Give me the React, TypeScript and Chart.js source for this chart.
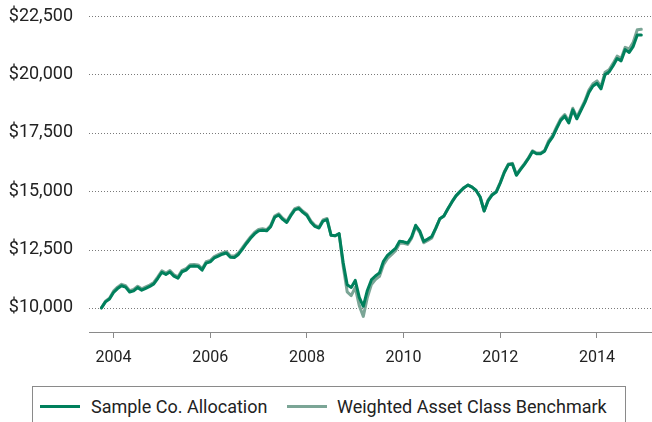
import React, { useEffect, useRef } from "react";
import { Chart, registerables } from "chart.js";

Chart.register(...registerables);

const START_YEAR = 2003;
const START_MONTH = 9; // October (0-based)

const sampleAllocation = [
  10000, 10260, 10380, 10660, 10830, 10950, 10890, 10680, 10730, 10870,
  10760, 10840, 10920, 11030, 11270, 11530, 11430, 11540, 11360, 11270,
  11550, 11620, 11790, 11800, 11780, 11620, 11920, 11970, 12140, 12220,
  12300, 12350, 12170, 12160, 12290, 12520, 12760, 12980, 13170, 13300,
  13330, 13300, 13480, 13880, 13980, 13790, 13660, 13950, 14200, 14260,
  14090, 13960, 13670, 13490, 13420, 13720, 13780, 13110, 13090, 13180,
  11950, 10990, 10880, 11180, 10450, 10070, 10750, 11200, 11370, 11500,
  12000, 12250, 12400, 12550, 12860, 12830, 12780, 13050, 13540, 13300,
  12850, 12950, 13060, 13420, 13820, 13940, 14250, 14540, 14800, 14980,
  15150, 15260, 15170, 15030, 14750, 14150, 14600, 14840, 14960, 15350,
  15800, 16130, 16160, 15680, 15920, 16150, 16400, 16700, 16600, 16600,
  16710, 17080, 17320, 17690, 18030, 18210, 17920, 18480, 18100, 18450,
  18800, 19230, 19500, 19620, 19380, 19990, 20100, 20370, 20680, 20580,
  21060, 20940, 21200, 21690, 21690,
];

const weightedBenchmark = [
  10000, 10290, 10420, 10720, 10890, 11010, 10950, 10740, 10790, 10930,
  10820, 10900, 10980, 11090, 11330, 11590, 11490, 11600, 11420, 11330,
  11610, 11680, 11850, 11860, 11840, 11680, 11980, 12030, 12200, 12280,
  12360, 12410, 12230, 12220, 12350, 12580, 12820, 13040, 13230, 13360,
  13390, 13350, 13530, 13930, 14030, 13840, 13710, 14000, 14250, 14310,
  14140, 14010, 13720, 13540, 13470, 13770, 13830, 13110, 13090, 13170,
  11800, 10690, 10530, 10880, 10100, 9640, 10450, 11000, 11220, 11350,
  11850, 12120, 12280, 12450, 12770, 12770, 12720, 12990, 13480, 13240,
  12790, 12890, 13000, 13420, 13820, 13940, 14250, 14540, 14800, 14980,
  15150, 15260, 15170, 15030, 14750, 14150, 14630, 14870, 14990, 15380,
  15830, 16160, 16190, 15710, 15950, 16180, 16430, 16730, 16630, 16630,
  16740, 17150, 17390, 17760, 18100, 18280, 17990, 18550, 18170, 18520,
  18870, 19330, 19600, 19720, 19480, 20090, 20200, 20470, 20780, 20680,
  21160, 21090, 21380, 21910, 21930,
];

const yearTicks = [2004, 2006, 2008, 2010, 2012, 2014];
const valueTicks = [10000, 12500, 15000, 17500, 20000, 22500];

const seriesNames = ["Sample Co. Allocation", "Weighted Asset Class Benchmark"];
const seriesColors = ["#00805c", "#7ba596"];

const FONT = "Roboto, 'Noto Sans', sans-serif";

const dottedGrid = {
  id: "dottedGrid",
  beforeDatasetsDraw(chart: any) {
    const { ctx, chartArea, scales } = chart;
    const y = scales.y;
    ctx.save();
    ctx.strokeStyle = "#7a7a7a";
    ctx.lineWidth = 1;
    ctx.setLineDash([1, 2]);
    for (const v of valueTicks) {
      const py = Math.round(y.getPixelForValue(v)) + 0.5;
      ctx.beginPath();
      ctx.moveTo(chartArea.left, py);
      ctx.lineTo(chartArea.right, py);
      ctx.stroke();
    }
    ctx.restore();
  },
};

export default function App() {
  const canvasRef = useRef<HTMLCanvasElement | null>(null);

  useEffect(() => {
    const canvas = canvasRef.current;
    if (!canvas) return;
    const toPoints = (arr: number[]) =>
      arr.map((v, i) => ({ x: START_YEAR + (START_MONTH + i) / 12, y: v }));

    const chart = new Chart(canvas, {
      type: "line",
      data: {
        datasets: [
          {
            label: seriesNames[0],
            data: toPoints(sampleAllocation),
            borderColor: seriesColors[0],
            borderWidth: 3,
            pointRadius: 0,
            tension: 0,
            borderJoinStyle: "round",
            borderCapStyle: "round",
          },
          {
            label: seriesNames[1],
            data: toPoints(weightedBenchmark),
            borderColor: seriesColors[1],
            borderWidth: 3,
            pointRadius: 0,
            tension: 0,
            borderJoinStyle: "round",
            borderCapStyle: "round",
          },
        ],
      },
      plugins: [dottedGrid],
      options: {
        animation: false,
        responsive: false,
        maintainAspectRatio: false,
        layout: { padding: { top: 16, left: 0, right: 0, bottom: 0 } },
        plugins: { legend: { display: false }, tooltip: { enabled: false } },
        scales: {
          x: {
            type: "linear",
            min: 2003.493,
            max: 2015.138,
            afterBuildTicks: (scale: any) => {
              scale.ticks = yearTicks.map((v) => ({ value: v }));
            },
            afterFit: (scale: any) => {
              scale.height = 48;
              scale.paddingLeft = 0;
              scale.paddingRight = 0;
            },
            ticks: {
              callback: (v: any) => String(v),
              color: "#222",
              font: { family: FONT, size: 16 },
              padding: 10,
              maxRotation: 0,
              autoSkip: false,
            },
            grid: {
              drawOnChartArea: false,
              drawTicks: true,
              tickLength: 6,
              color: "#8a8a8a",
            },
            border: { display: true, color: "#8a8a8a", width: 1 },
          },
          y: {
            type: "linear",
            min: 8970,
            max: 22500,
            afterBuildTicks: (scale: any) => {
              scale.ticks = valueTicks.map((v) => ({ value: v }));
            },
            afterFit: (scale: any) => {
              scale.width = 89;
              scale.paddingTop = 0;
              scale.paddingBottom = 0;
            },
            ticks: {
              callback: (v: any) => "$" + Number(v).toLocaleString("en-US"),
              color: "#222",
              font: { family: FONT, size: 18 },
              padding: 16,
            },
            grid: {
              display: false,
              drawTicks: false,
            },
            border: { display: false },
          },
        },
      },
    } as any);

    return () => chart.destroy();
  }, []);

  const legendText: React.CSSProperties = {
    position: "absolute",
    top: 395,
    fontFamily: FONT,
    fontSize: 18,
    lineHeight: "24px",
    color: "#222",
    whiteSpace: "nowrap",
  };
  const legendLine = (left: number, color: string): React.CSSProperties => ({
    position: "absolute",
    left,
    top: 405,
    width: 40,
    height: 3,
    background: color,
  });

  return (
    <div
      style={{
        position: "absolute",
        left: 0,
        top: 0,
        width: 652,
        height: 422,
        overflow: "hidden",
        background: "#fff",
      }}
    >
      <canvas
        ref={canvasRef}
        width={652}
        height={380}
        style={{ position: "absolute", left: 0, top: 0, width: 652, height: 380 }}
      />
      <div
        style={{
          position: "absolute",
          left: 32,
          top: 386,
          width: 594,
          height: 60,
          border: "1px solid #8a8a8a",
          boxSizing: "border-box",
        }}
      />
      <div style={legendLine(40, seriesColors[0])} />
      <div style={{ ...legendText, left: 91 }}>{seriesNames[0]}</div>
      <div style={legendLine(287, seriesColors[1])} />
      <div style={{ ...legendText, left: 337 }}>{seriesNames[1]}</div>
    </div>
  );
}
